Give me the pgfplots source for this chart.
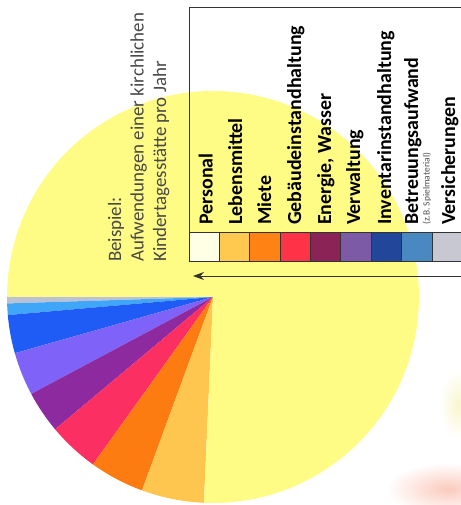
\documentclass[border=0pt]{standalone}
\usepackage{pgfplots}
\pgfplotsset{compat=1.18}
\usepackage{pgfplotstable}
\usepackage{fontspec}
\setmainfont{Carlito}
\usetikzlibrary{arrows.meta}

% pie colours
\definecolor{pc0}{HTML}{BCC2D4}
\definecolor{pc1}{HTML}{3FA6F8}
\definecolor{pc2}{HTML}{1E5CF5}
\definecolor{pc3}{HTML}{7F62F8}
\definecolor{pc4}{HTML}{8E2AA0}
\definecolor{pc5}{HTML}{FB2F62}
\definecolor{pc6}{HTML}{FD7C12}
\definecolor{pc7}{HTML}{FEC64E}
\definecolor{pc8}{HTML}{FFFC85}
% legend colours
\definecolor{lc1}{HTML}{FFFFE6}
\definecolor{lc2}{HTML}{FFC84F}
\definecolor{lc3}{HTML}{FF8214}
\definecolor{lc4}{HTML}{FF3348}
\definecolor{lc5}{HTML}{8C2356}
\definecolor{lc6}{HTML}{7D5AA5}
\definecolor{lc7}{HTML}{22479A}
\definecolor{lc8}{HTML}{4A88C2}
\definecolor{lc9}{HTML}{C8C8D2}
\definecolor{frame}{HTML}{333333}
\definecolor{blob}{HTML}{F9B4A0}
\definecolor{blobY}{HTML}{F4EE9A}

\pgfplotstableread{
idx name value
0 Versicherungen 0.5
1 Betreuungsaufwand 0.9
2 Inventarinstandhaltung 3.0
3 Verwaltung 3.4
4 Energie 3.3
5 Gebaeudeinstandhaltung 4.0
6 Miete 4.3
7 Lebensmittel 4.9
8 Personal 75.7
}\piedata

\newcommand\lbl{\bfseries\fontsize{20}{20}\selectfont}

\begin{document}
\begin{tikzpicture}
\begin{axis}[
  x=1bp, y=1bp, scale only axis,
  xmin=0, xmax=461, ymin=0, ymax=505,
  hide axis, clip=true,
]
% faint background photo remnants
\shade[inner color=blob, outer color=white, opacity=0.7] (axis cs:448,16) ellipse [x radius=62bp, y radius=26bp];
\shade[inner color=blobY, outer color=white, opacity=0.5] (axis cs:458,100) ellipse [x radius=18bp, y radius=34bp];

% pie slices from the table
\gdef\cum{180}
\pgfplotsinvokeforeach{0,...,8}{
  \pgfplotstablegetelem{#1}{value}\of\piedata
  \pgfmathsetmacro\sa{\cum}
  \pgfmathsetmacro\ea{\cum+3.6*\pgfplotsretval}
  \pgfmathsetmacro\px{213+206*cos(\sa)}
  \pgfmathsetmacro\py{208+206*sin(\sa)}
  \edef\temp{\noexpand\fill[pc#1] (axis cs:213,208) -- (axis cs:\px,\py) arc[start angle=\sa, end angle=\ea, radius=206bp] -- cycle;}
  \temp
  \xdef\cum{\ea}
}

% legend swatches
\fill[lc1] (axis cs:189.3,243) rectangle (axis cs:219.3,272);
\fill[lc2] (axis cs:219.3,243) rectangle (axis cs:249.3,272);
\fill[lc3] (axis cs:249.3,243) rectangle (axis cs:280,272);
\fill[lc4] (axis cs:280,243) rectangle (axis cs:310,272);
\fill[lc5] (axis cs:310,243) rectangle (axis cs:340.7,272);
\fill[lc6] (axis cs:340.7,243) rectangle (axis cs:371,272);
\fill[lc7] (axis cs:371,243) rectangle (axis cs:401.7,272);
\fill[lc8] (axis cs:401.7,243) rectangle (axis cs:432.3,272);
\fill[lc9] (axis cs:432.3,243) rectangle (axis cs:461,272);
\draw[frame, line width=1bp] (axis cs:461,243) -- (axis cs:189.3,243) -- (axis cs:189.3,497) -- (axis cs:461,497);
\draw[frame, line width=1bp] (axis cs:189.3,272) -- (axis cs:461,272);
\pgfplotsinvokeforeach{219.3,249.3,280,310,340.7,371,401.7,432.3}{
  \draw[frame, line width=1bp] (axis cs:#1,243) -- (axis cs:#1,272);
}

% legend labels
\node[rotate=90, anchor=base west, inner sep=0, font=\lbl] at (axis cs:212.5,280) {Personal};
\node[rotate=90, anchor=base west, inner sep=0, font=\lbl] at (axis cs:242,280) {Lebensmittel};
\node[rotate=90, anchor=base west, inner sep=0, font=\lbl] at (axis cs:271,280) {Miete};
\node[rotate=90, anchor=base west, inner sep=0, font=\lbl] at (axis cs:301,280) {Gebäudeinstandhaltung};
\node[rotate=90, anchor=base west, inner sep=0, font=\lbl] at (axis cs:331,280) {Energie, Wasser};
\node[rotate=90, anchor=base west, inner sep=0, font=\lbl] at (axis cs:360,280) {Verwaltung};
\node[rotate=90, anchor=base west, inner sep=0, font=\lbl] at (axis cs:391,280) {Inventarinstandhaltung};
\node[rotate=90, anchor=base west, inner sep=0, font=\lbl] at (axis cs:418,280) {Betreuungsaufwand};
\node[rotate=90, anchor=base west, inner sep=0, font=\fontsize{9.5}{9.5}\selectfont, text=black!70] at (axis cs:429.5,280) {(z.B. Spielmaterial)};
\node[rotate=90, anchor=base west, inner sep=0, font=\lbl] at (axis cs:455,280) {Versicherungen};

% annotation
\node[rotate=90, anchor=base west, inner sep=0, font=\fontsize{19}{19}\selectfont, text=black!72] at (axis cs:121,243) {Beispiel:};
\node[rotate=90, anchor=base west, inner sep=0, font=\fontsize{19}{19}\selectfont, text=black!72] at (axis cs:143.5,243) {Aufwendungen einer kirchlichen};
\node[rotate=90, anchor=base west, inner sep=0, font=\fontsize{19}{19}\selectfont, text=black!72] at (axis cs:166,243) {Kindertagesstätte pro Jahr};

% arrow
\draw[frame, line width=0.9bp, -{Stealth[length=11bp,width=8bp]}] (axis cs:461,229) -- (axis cs:193,229);
\end{axis}
\pgfresetboundingbox
\path[use as bounding box] (current axis.south west) rectangle (current axis.north east);
\end{tikzpicture}
\end{document}
